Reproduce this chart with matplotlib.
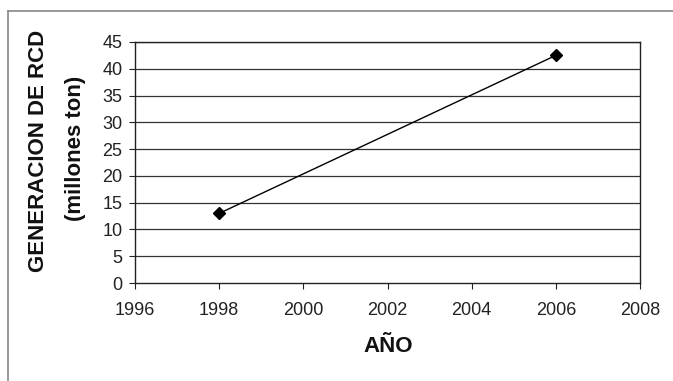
import matplotlib.pyplot as plt
from matplotlib.lines import Line2D

years = [1998, 2006]
generacion = [13, 42.5]
x_ticks = [1996, 1998, 2000, 2002, 2004, 2006, 2008]
y_ticks = [0, 5, 10, 15, 20, 25, 30, 35, 40, 45]

plt.rcParams['font.family'] = ['Liberation Sans', 'DejaVu Sans']

fig = plt.figure(figsize=(6.73, 3.81), dpi=100)
ax = fig.add_axes([135 / 673, 1 - 283 / 381, 505 / 673, 241 / 381])

# marco gris (solo borde superior e izquierdo visibles)
fig.lines.append(Line2D([8 / 673, 1], [1 - 11 / 381, 1 - 11 / 381],
                        transform=fig.transFigure, color='#888888', linewidth=1.2))
fig.lines.append(Line2D([8 / 673, 8 / 673], [0, 1 - 11 / 381],
                        transform=fig.transFigure, color='#888888', linewidth=1.2))

for y in y_ticks[1:]:
    ax.axhline(y, color='#333333', linewidth=0.9, zorder=1)

ax.plot(years, generacion, color='black', linewidth=1, marker='D',
        markersize=6, zorder=3)

ax.set_xlim(1996, 2008)
ax.set_ylim(0, 45)
ax.set_xticks(x_ticks)
ax.set_yticks(y_ticks)
ax.tick_params(labelsize=13, length=4, direction='out', colors='#222222',
               labelcolor='#222222')
ax.tick_params(axis='x', pad=10)
ax.tick_params(axis='y', pad=5)
for s in ax.spines.values():
    s.set_color('#222222')
    s.set_linewidth(1)

fig.text(388 / 673, 1 - 347 / 381, 'AÑO', fontsize=16, fontweight='bold',
         ha='center', va='center', color='#111111')
fig.text(39 / 673, 1 - 151 / 381, 'GENERACION DE RCD', fontsize=16,
         fontweight='bold', rotation=90, ha='center', va='center', color='#111111')
fig.text(75 / 673, 1 - 148 / 381, '(millones ton)', fontsize=16,
         fontweight='bold', rotation=90, ha='center', va='center', color='#111111')

fig.savefig('out.png', dpi=100)
